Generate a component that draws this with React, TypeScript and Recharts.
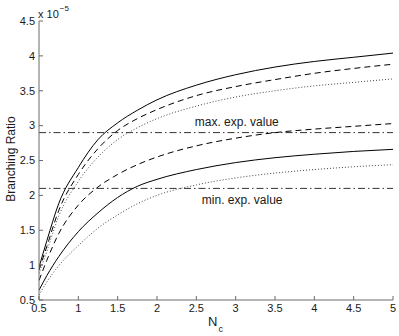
import React from 'react';
import { LineChart, Line, XAxis, YAxis, ReferenceLine, ReferenceDot, Label } from 'recharts';

const nc = [0.5, 0.6, 0.75, 1, 1.25, 1.5, 1.75, 2, 2.5, 3, 3.5, 4, 4.5, 5];
const upperSolid = [0.97, 1.35, 1.88, 2.4, 2.8, 3.04, 3.22, 3.37, 3.58, 3.73, 3.84, 3.92, 3.98, 4.04];
const upperDashed = [0.93, 1.27, 1.78, 2.3, 2.67, 2.93, 3.1, 3.23, 3.43, 3.56, 3.66, 3.75, 3.82, 3.88];
const upperDotted = [0.88, 1.2, 1.7, 2.2, 2.55, 2.8, 2.97, 3.1, 3.28, 3.41, 3.5, 3.57, 3.62, 3.67];
const lowerDashed = [0.78, 1.07, 1.45, 1.86, 2.12, 2.3, 2.44, 2.55, 2.71, 2.82, 2.9, 2.95, 2.99, 3.03];
const lowerSolid = [0.64, 0.85, 1.12, 1.48, 1.75, 1.97, 2.13, 2.23, 2.37, 2.47, 2.54, 2.59, 2.63, 2.66];
const lowerDotted = [0.57, 0.76, 0.99, 1.28, 1.53, 1.72, 1.88, 2.0, 2.15, 2.25, 2.32, 2.37, 2.41, 2.44];

const xTicks = [0.5, 1, 1.5, 2, 2.5, 3, 3.5, 4, 4.5, 5];
const yTicks = [0.5, 1, 1.5, 2, 2.5, 3, 3.5, 4, 4.5];

const maxExp = 2.9;
const minExp = 2.1;

const data = nc.map((x, i) => ({
  x,
  us: upperSolid[i],
  ud: upperDashed[i],
  uo: upperDotted[i],
  ld: lowerDashed[i],
  ls: lowerSolid[i],
  lo: lowerDotted[i],
}));

const FONT = '"Liberation Sans", Arial, Helvetica, sans-serif';
const AXIS = '#6a6a6a';
const INK = '#1a1a1a';
const T = 4;

const BottomTick = (p: any) => (
  <g>
    <line x1={p.x} y1={p.y} x2={p.x} y2={p.y - T} stroke={AXIS} />
    <text x={p.x} y={p.y + 12} textAnchor="middle" fontSize={11} fontFamily={FONT} fill={INK}>
      {p.payload.value}
    </text>
  </g>
);
const TopTick = (p: any) => <line x1={p.x} y1={p.y} x2={p.x} y2={p.y + T} stroke={AXIS} />;
const LeftTick = (p: any) => (
  <g>
    <line x1={p.x} y1={p.y} x2={p.x + T} y2={p.y} stroke={AXIS} />
    <text x={p.x - 4} y={p.y} dy="0.35em" textAnchor="end" fontSize={11} fontFamily={FONT} fill={INK}>
      {p.payload.value}
    </text>
  </g>
);
const RightTick = (p: any) => <line x1={p.x} y1={p.y} x2={p.x - T} y2={p.y} stroke={AXIS} />;

const textLabel = (s: string) => (props: any) => {
  const vb = props.viewBox || {};
  return (
    <text x={vb.x} y={vb.y} dy="0.35em" textAnchor="start" fontSize={12} fontFamily={FONT} fill={INK}>
      {s}
    </text>
  );
};

export default function App() {
  return (
    <div style={{ position: 'absolute', left: 0, top: 0, background: '#fff' }}>
      <LineChart width={399} height={336} data={data} margin={{ top: 21, right: 6, bottom: 0, left: 0 }}>
        <XAxis
          dataKey="x"
          type="number"
          domain={[0.5, 5]}
          ticks={xTicks}
          interval={0}
          height={36}
          tickSize={0}
          tickMargin={0}
          tick={BottomTick}
          axisLine={{ stroke: AXIS }}
          allowDataOverflow
        >
          <Label
            content={() => (
              <text x={208} y={326} fontSize={13} fontFamily={FONT} fill={INK}>
                N
                <tspan fontSize={9} dx={1} dy={6}>c</tspan>
              </text>
            )}
          />
        </XAxis>
        <XAxis
          xAxisId="top"
          orientation="top"
          type="number"
          domain={[0.5, 5]}
          ticks={xTicks}
          interval={0}
          height={0}
          tickSize={0}
          tickMargin={0}
          tick={TopTick}
          axisLine={{ stroke: AXIS }}
          allowDataOverflow
        />
        <YAxis
          type="number"
          domain={[0.5, 4.5]}
          ticks={yTicks}
          interval={0}
          width={39}
          tickSize={0}
          tickMargin={0}
          tick={LeftTick}
          axisLine={{ stroke: AXIS }}
          allowDataOverflow
        >
          <Label
            content={() => (
              <g>
                <text
                  x={11}
                  y={159}
                  transform="rotate(-90 11 159)"
                  textAnchor="middle"
                  dy="0.35em"
                  fontSize={12}
                  fontFamily={FONT}
                  fill={INK}
                >
                  Branching Ratio
                </text>
                <text x={38} y={18} fontSize={11} fontFamily={FONT} fill={INK}>
                  x 10
                  <tspan fontSize={8} dx={1} dy={-7}>−5</tspan>
                </text>
              </g>
            )}
          />
        </YAxis>
        <YAxis
          yAxisId="right"
          orientation="right"
          type="number"
          domain={[0.5, 4.5]}
          ticks={yTicks}
          interval={0}
          width={0}
          tickSize={0}
          tickMargin={0}
          tick={RightTick}
          axisLine={{ stroke: AXIS }}
          allowDataOverflow
        />
        <ReferenceLine y={maxExp} stroke="#333" strokeWidth={1} strokeDasharray="7 3 1.5 3" />
        <ReferenceLine y={minExp} stroke="#333" strokeWidth={1} strokeDasharray="7 3 1.5 3" />
        <ReferenceDot x={2.48} y={3.05} r={0} fill="none" stroke="none" label={textLabel('max. exp. value')} />
        <ReferenceDot x={2.57} y={1.93} r={0} fill="none" stroke="none" label={textLabel('min. exp. value')} />
        <Line dataKey="us" type="monotone" stroke="#000" strokeWidth={1} dot={false} isAnimationActive={false} />
        <Line dataKey="ud" type="monotone" stroke="#000" strokeWidth={1} strokeDasharray="6 4" dot={false} isAnimationActive={false} />
        <Line dataKey="uo" type="monotone" stroke="#444" strokeWidth={1} strokeDasharray="1 2" dot={false} isAnimationActive={false} />
        <Line dataKey="ld" type="monotone" stroke="#000" strokeWidth={1} strokeDasharray="6 4" dot={false} isAnimationActive={false} />
        <Line dataKey="ls" type="monotone" stroke="#000" strokeWidth={1} dot={false} isAnimationActive={false} />
        <Line dataKey="lo" type="monotone" stroke="#444" strokeWidth={1} strokeDasharray="1 2" dot={false} isAnimationActive={false} />
      </LineChart>
    </div>
  );
}
